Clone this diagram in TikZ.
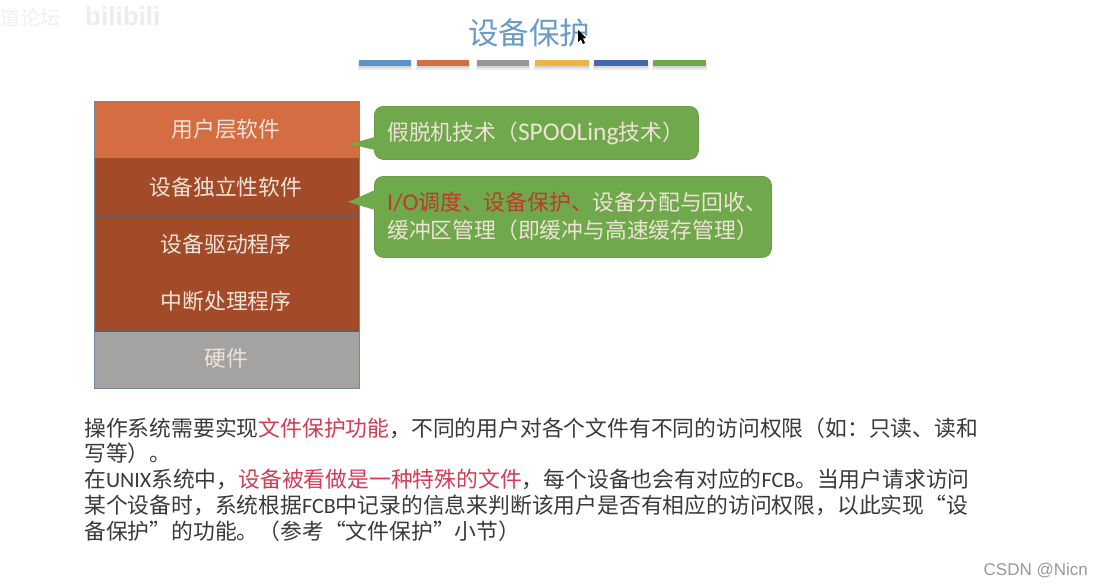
\documentclass[tikz,border=0pt]{standalone}
\usepackage{fontspec}
\setmainfont{Noto Sans CJK SC}
\newfontfamily\latfont{Carlito}
\newfontfamily\wmfont{Liberation Sans}
\newcommand{\lat}[1]{{\latfont\fontsize{22}{26}\selectfont #1}}
\newcommand{\latb}[1]{{\latfont\fontsize{25.5}{26}\selectfont #1}}
\newcommand{\latc}[1]{{\latfont\fontsize{24}{26}\selectfont #1}}
\definecolor{orangeL}{HTML}{D56D42}
\definecolor{darkL}{HTML}{A34A28}
\definecolor{grayL}{HTML}{A5A3A2}
\definecolor{divL}{HTML}{6E5A5E}
\definecolor{edgeL}{HTML}{7884A0}
\definecolor{greenC}{HTML}{70A84C}
\definecolor{greenE}{HTML}{6A9C48}
\definecolor{lightT}{HTML}{EFE3D8}
\definecolor{redT}{HTML}{BE3A2A}
\definecolor{pinkT}{HTML}{D23C55}
\definecolor{bodyT}{HTML}{3A3A3A}
\definecolor{titleT}{HTML}{6A9BC8}
\tikzset{
  layerbox/.style={fill=#1,draw=none,minimum width=265pt,inner sep=0pt,anchor=north west},
  layertext/.style={anchor=base,inner sep=0pt,text=lightT,font=\fontsize{21.8}{26}\selectfont},
  calloutbox/.style={fill=greenC,draw=greenE,line width=0.8pt,rounded corners=9pt,inner sep=0pt,anchor=north west},
  callouttail/.style={fill=greenC,draw=none},
  calloutline/.style={anchor=base west,inner sep=0pt,text=lightT,font=\fontsize{21.8}{26}\selectfont},
  bodyline/.style={anchor=base west,inner sep=0pt,text=bodyT,font=\fontsize{21.8}{26}\selectfont},
  colorbar/.style={fill=#1,draw=none,inner sep=0pt,minimum height=6pt,anchor=north west},
}
\begin{document}
\begin{tikzpicture}[x=1pt,y=-1pt]
\useasboundingbox[fill=white] (0,0) rectangle (1097,586);
% watermark
\node[anchor=base west,inner sep=0pt,text=black!6,font=\fontsize{20}{22}\selectfont] (wm1) at (0,26) {道论坛};
\node[anchor=base west,inner sep=0pt,text=black!7,font=\wmfont\bfseries\fontsize{26}{28}\selectfont] (wm2) at (85,26) {bilibili};
% title
\node[anchor=base,inner sep=0pt,text=titleT,font=\fontsize{30.5}{34}\selectfont] (title) at (529,45) {设备保护};
% bars
\foreach \xa/\w/\c [count=\i] in {359/52/5B94C8,417/52/D56D42,477/52/969696,535/54/EDB544,594/54/4169AE,653/53/70A84C}{
  \definecolor{barc}{HTML}{\c}
  \fill[black!8] (\xa-1,62) rectangle +(\w+2,8);
  \fill[black!16] (\xa,62) rectangle +(\w,6);
  \node[colorbar=barc,minimum width=\w pt] (bar\i) at (\xa,60) {};
}
% cursor
\fill[black] (578,30) -- (578,42) -- (581,39.5) -- (583,44) -- (585,43) -- (583,38.5) -- (586,38) -- cycle;
% stack
\node[layerbox=orangeL,minimum height=57pt] (l1) at (94,101) {};
\node[layerbox=darkL,minimum height=58pt] (l2) at (94,158) {};
\node[layerbox=darkL,minimum height=57pt] (l3) at (94,216) {};
\node[layerbox=darkL,minimum height=57pt] (l4) at (94,273) {};
\node[layerbox=grayL,minimum height=58pt] (l5) at (94,330) {};
\fill[divL] (94,215) rectangle (359,218);
\fill[divL] (94,329.5) rectangle (359,331.5);
\draw[edgeL,line width=0.8pt] (94,101) rectangle (359,388);
\node[layertext] (t1) at (226,137) {用户层软件};
\node[layertext] (t2) at (226,195) {设备独立性软件};
\node[layertext] (t3) at (226,252) {设备驱动程序};
\node[layertext] (t4) at (226,309) {中断处理程序};
\node[layertext] (t5) at (226,366) {硬件};
% callouts
\node[calloutbox,minimum width=324pt,minimum height=53pt] (c1) at (374,106) {};
\coordinate (tip1) at (349,144);
\fill[callouttail] (tip1) -- (375,137) -- (375,150) -- cycle;
\node[calloutline] (c1t) at (387,140) {假脱机技术（\latb{SPOOLing}技术）};
\node[calloutbox,minimum width=397pt,minimum height=81pt] (c2) at (374,176) {};
\coordinate (tip2) at (348,202);
\fill[callouttail] (tip2) -- (375,190) -- (375,210) -- cycle;
\node[calloutline] (c2a) at (387,210) {{\color{redT}\latc{I/O}调度、设备保护、}设备分配与回收、};
\node[calloutline] (c2b) at (387,238) {缓冲区管理（即缓冲与高速缓存管理）};
% body
\node[bodyline] (b1) at (84,436) {操作系统需要实现{\color{pinkT}文件保护功能}，不同的用户对各个文件有不同的访问权限（如：只读、读和};
\node[bodyline] (b2) at (84,461) {写等）。};
\node[bodyline] (b3) at (84,487) {在\lat{UNIX}系统中，{\color{pinkT}设备被看做是一种特殊的文件}，每个设备也会有对应的\lat{FCB}。当用户请求访问};
\node[bodyline] (b4) at (84,513) {某个设备时，系统根据\lat{FCB}中记录的信息来判断该用户是否有相应的访问权限，以此实现“设};
\node[bodyline] (b5) at (84,539) {备保护”的功能。（参考“文件保护”小节）};
% credit
\node[anchor=base east,inner sep=0pt,text=black!40,font=\wmfont\fontsize{17}{20}\selectfont] (csdn) at (1088,575) {CSDN @Nicn};
\end{tikzpicture}
\end{document}
